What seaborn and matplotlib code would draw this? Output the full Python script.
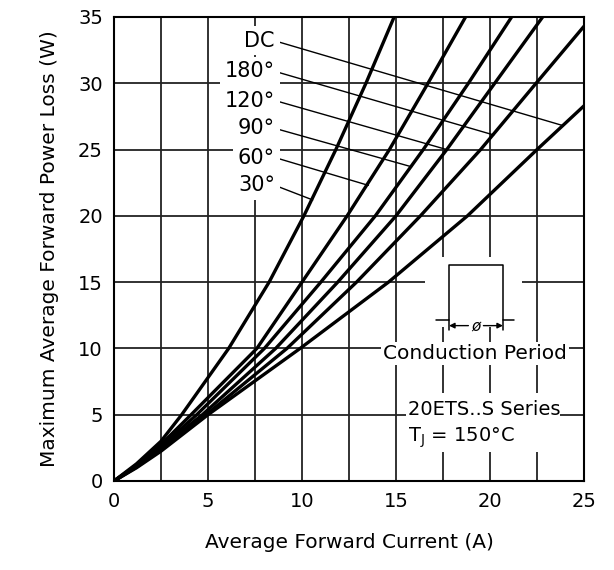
import numpy as np
import pandas as pd
import matplotlib
matplotlib.use("Agg")
import matplotlib.pyplot as plt
from matplotlib.patches import Rectangle
import seaborn as sns

# ---- data ----
curve_names = ["30°", "60°", "90°", "120°", "180°", "DC"]
current_30 = [0, 1.2, 2.5, 3.6, 6.1, 8.25, 10.1, 11.8, 13.4, 14.9]
power_30 = [0, 1.3, 3.0, 5, 10, 15, 20, 25, 30, 35]
current_60 = [0, 1.2, 2.5, 4.1, 7.6, 10.0, 12.4, 14.65, 16.7, 18.7]
power_60 = [0, 1.2, 2.75, 5, 10, 15, 20, 25, 30, 35]
current_90 = [0, 1.2, 2.5, 4.4, 8.0, 11.0, 13.9, 16.45, 18.85, 21.15]
power_90 = [0, 1.15, 2.6, 5, 10, 15, 20, 25, 30, 35]
current_120 = [0, 1.2, 2.5, 4.7, 8.6, 11.9, 15.0, 17.7, 20.25, 22.8]
power_120 = [0, 1.1, 2.5, 5, 10, 15, 20, 25, 30, 35]
current_180 = [0, 1.2, 2.5, 4.9, 9.2, 12.9, 16.3, 19.5, 22.45, 25.0]
power_180 = [0, 1.05, 2.4, 5, 10, 15, 20, 25, 30, 34.3]
current_dc = [0, 1.2, 2.5, 5.0, 9.9, 14.6, 18.8, 22.5, 25.0]
power_dc = [0, 1.0, 2.25, 5, 10, 15, 20, 25, 28.3]

x_ticks = [0, 5, 10, 15, 20, 25]
y_ticks = [0, 5, 10, 15, 20, 25, 30, 35]

# label text anchor (right edge) and leader end on curve
label_order = ["DC", "180°", "120°", "90°", "60°", "30°"]
label_y = [33.2, 30.9, 28.7, 26.6, 24.4, 22.3]
leader_end_x = [23.9, 20.2, 17.7, 15.83, 13.53, 10.57]
leader_end_y = [26.8, 26.1, 25.0, 23.7, 22.3, 21.2]

currents = [current_30, current_60, current_90, current_120, current_180, current_dc]
powers = [power_30, power_60, power_90, power_120, power_180, power_dc]
frames = []
for name, c, p in zip(curve_names, currents, powers):
    frames.append(pd.DataFrame({"I": c, "P": p, "curve": name}))
df = pd.concat(frames, ignore_index=True)

sns.set_theme(style="white")
plt.rcParams["font.family"] = ["DejaVu Sans"]
plt.rcParams["mathtext.default"] = "regular"
plt.rcParams["text.color"] = "black"
plt.rcParams["axes.labelcolor"] = "black"

fig = plt.figure(figsize=(6.14, 5.70), dpi=100)
ax = fig.add_axes([114 / 614, 1 - 481 / 570, 470 / 614, 464 / 570])

sns.lineplot(data=df, x="I", y="P", units="curve", estimator=None,
             color="black", linewidth=2.4, ax=ax, zorder=5, sort=False)

ax.set_xlim(0, 25)
ax.set_ylim(0, 35)
ax.set_xticks(x_ticks)
ax.set_yticks(y_ticks)
ax.set_xticks(np.arange(2.5, 25, 5), minor=True)
ax.set_axisbelow(True)
ax.grid(True, which="both", color="#222222", linewidth=1.3, zorder=0.5)
ax.tick_params(axis="both", which="both", length=0, labelsize=14,
               colors="black", pad=8)
for s in ax.spines.values():
    s.set_color("black")
    s.set_linewidth(1.5)
    s.set_visible(True)
ax.set_xlabel("Average Forward Current (A)", fontsize=14.5, labelpad=16,
              color="black")
ax.set_ylabel("Maximum Average Forward Power Loss (W)", fontsize=14.5,
              labelpad=14, color="black")

# curve labels with leaders
for lab, ly, ex, ey in zip(label_order, label_y, leader_end_x, leader_end_y):
    ax.annotate(lab, xy=(ex, ey), xytext=(8.56, ly), ha="right", va="center",
                fontsize=15, zorder=6, color="black",
                bbox=dict(boxstyle="square,pad=0.22", fc="white", ec="none"),
                arrowprops=dict(arrowstyle="-", lw=1.0, color="black",
                                shrinkA=0, shrinkB=0, relpos=(1.0, 0.5)))

# conduction period icon
ax.add_patch(Rectangle((16.54, 11.6), 5.16, 5.3, fc="white", ec="none", zorder=1))
ax.plot([17.13, 17.82, 17.82, 20.69, 20.69, 21.28],
        [12.14, 12.14, 16.29, 16.29, 12.14, 12.14], color="black", lw=1.1, zorder=3)
ax.plot([17.82, 17.82], [12.14, 11.4], color="black", lw=1.1, zorder=3)
ax.plot([20.69, 20.69], [12.14, 11.4], color="black", lw=1.1, zorder=3)
ax.annotate("", xy=(17.82, 11.72), xytext=(18.85, 11.72),
            arrowprops=dict(arrowstyle="-|>", lw=1.0, color="black",
                            shrinkA=0, shrinkB=0, mutation_scale=8), zorder=3)
ax.annotate("", xy=(20.69, 11.72), xytext=(19.65, 11.72),
            arrowprops=dict(arrowstyle="-|>", lw=1.0, color="black",
                            shrinkA=0, shrinkB=0, mutation_scale=8), zorder=3)
ax.text(19.25, 11.72, "ø", fontsize=11, style="italic", ha="center",
        va="center", zorder=4, color="black")
ax.text(19.2, 9.65, "Conduction Period", fontsize=14.5, ha="center",
        va="center", zorder=4, color="black",
        bbox=dict(boxstyle="square,pad=0.1", fc="white", ec="none"))

# series box
ax.add_patch(Rectangle((15.55, 2.2), 8.15, 4.45, fc="white", ec="none", zorder=1))
ax.text(15.65, 5.4, "20ETS..S Series", fontsize=14, ha="left", va="center",
        zorder=4, color="black")
ax.text(15.65, 3.25, "T$_{J}$ = 150°C", fontsize=14, ha="left", va="center",
        zorder=4, color="black")

fig.savefig("out.png", dpi=100, facecolor="white")
